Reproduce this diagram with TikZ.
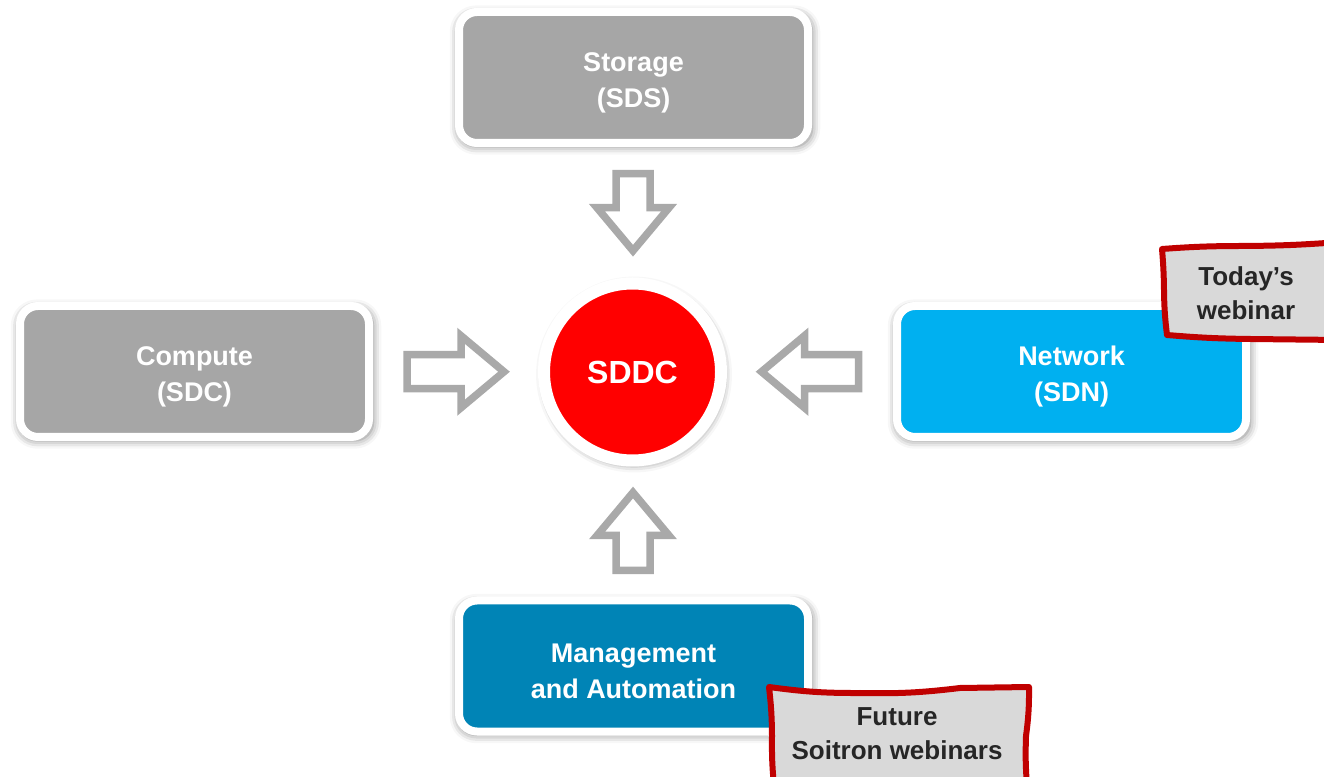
\documentclass[tikz,border=0pt]{standalone}
\usepackage{fontspec}
\setmainfont{Liberation Sans}
\usetikzlibrary{shadows.blur,calc}
\definecolor{panelgray}{HTML}{A6A6A6}
\definecolor{arrowgray}{HTML}{A9A9A9}
\definecolor{netblue}{HTML}{00B0F0}
\definecolor{mgmtblue}{HTML}{0084B6}
\definecolor{sddcred}{HTML}{FF0000}
\definecolor{notefill}{HTML}{D9D9D9}
\definecolor{noteline}{HTML}{C00000}
\definecolor{notetext}{HTML}{262626}

% taller first line so the two-line labels sit slightly low in their panels
\newcommand{\panelstrut}{\rule{0pt}{29pt}}

\tikzset{
  softshadow/.style={blur shadow={shadow xshift=1.5pt, shadow yshift=-2.5pt,
      shadow blur radius=8pt, shadow opacity=50, shadow scale=1.015}},
  panel/.style={rectangle, rounded corners=18pt, draw=white, line width=8pt,
      minimum width=349pt, minimum height=131pt, inner sep=0pt, align=center,
      text=white, font=\bfseries\fontsize{27}{36}\selectfont, softshadow},
  hub/.style={circle, draw=white, line width=12pt, minimum size=177pt,
      inner sep=0pt, fill=sddcred, text=white,
      font=\bfseries\fontsize{32}{38}\selectfont, softshadow},
  arrowline/.style={draw=arrowgray, fill=white, line width=7.5pt, miter limit=10},
  notebox/.style={fill=notefill, draw=noteline, line width=6pt, line join=round},
  notelabel/.style={align=center, text=notetext, inner sep=0pt,
      font=\bfseries\fontsize{26}{34}\selectfont},
  % hollow block arrow pointing along +x, #1 = total length
  blockarrow/.pic={
    \path[arrowline] (-#1/2,-17) -- (#1/2-43,-17) -- (#1/2-43,-36) -- (#1/2,0)
      -- (#1/2-43,36) -- (#1/2-43,17) -- (-#1/2,17) -- cycle;
  }
}

\begin{document}
\begin{tikzpicture}[x=1pt,y=1pt]
\useasboundingbox (0,0) rectangle (1324,776);

% the four building blocks and the data centre hub
\node[panel, fill=panelgray] (storage) at (633.5,698.5) {\panelstrut Storage\\(SDS)};
\node[panel, fill=panelgray] (compute) at (194.5,404.5) {\panelstrut Compute\\(SDC)};
\node[panel, fill=netblue]   (network) at (1071.5,404.5) {\panelstrut Network\\(SDN)};
\node[panel, fill=mgmtblue]  (mgmt)    at (633.5,110)   {\panelstrut Management\\and Automation};
\node[hub] (sddc) at (632.5,404) {SDDC};

% block arrows feeding the hub
\pic[rotate=-90] at ($(storage.south)!0.5!(sddc.north)$) {blockarrow=77};
\pic             at ($(compute.east)!0.5!(sddc.west)$)   {blockarrow=97};
\pic[rotate=180] at ($(network.west)!0.5!(sddc.east)$)   {blockarrow=97};
\pic[rotate=90]  at ($(mgmt.north)!0.5!(sddc.south)$)    {blockarrow=78};

% hand-drawn callouts
\path[notebox] (1162,527) to[bend left=2] (1240,530) to[bend right=2] (1340,534)
  -- (1340,436) -- (1250,437) to[bend left=2] (1167,441)
  to[bend left=3] (1164,485) to[bend right=2] cycle;
\node[notelabel] (today) at (1246,482.5) {Today’s\\webinar};

\path[notebox] (769,89) to[bend right=4] (860,83) to[bend right=4] (960,88)
  -- (1029,89) to[bend left=4] (1026,40) to[bend right=3] (1027,-10)
  -- (774,-10) to[bend left=3] (772,40) to[bend right=3] cycle;
\node[notelabel] (future) at (897,42) {Future\\Soitron webinars};
\end{tikzpicture}
\end{document}
